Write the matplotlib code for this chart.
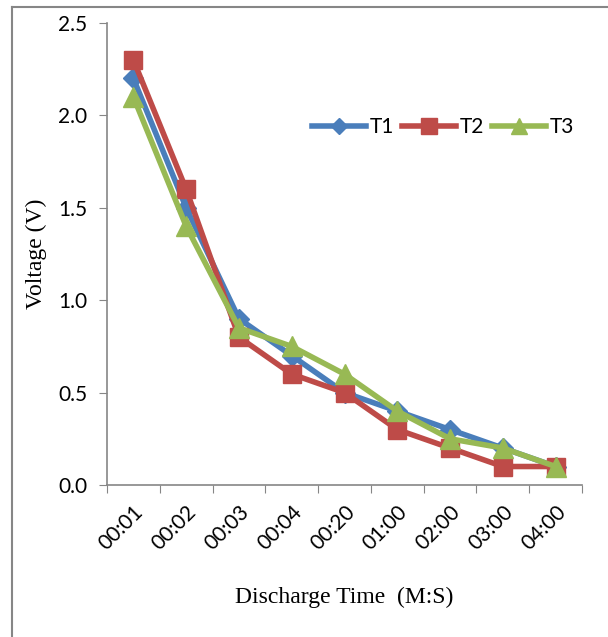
import matplotlib
matplotlib.use("Agg")
import matplotlib.pyplot as plt
from matplotlib.lines import Line2D

categories = ["00:01", "00:02", "00:03", "00:04", "00:20", "01:00", "02:00", "03:00", "04:00"]
t1 = [2.2, 1.5, 0.9, 0.7, 0.5, 0.4, 0.3, 0.2, 0.1]
t2 = [2.3, 1.6, 0.8, 0.6, 0.5, 0.3, 0.2, 0.1, 0.1]
t3 = [2.1, 1.4, 0.85, 0.75, 0.6, 0.4, 0.25, 0.2, 0.1]
y_ticks = [0.0, 0.5, 1.0, 1.5, 2.0, 2.5]

W, H = 608, 637
fig = plt.figure(figsize=(W / 100, H / 100), dpi=100)
ax = fig.add_axes([107 / W, 1 - 485 / H, (582 - 107) / W, (485 - 23) / H])

x = list(range(len(categories)))
ax.plot(x, t1, color="#4A7EBB", lw=4, marker="D", ms=10, label="T1", zorder=3)
ax.plot(x, t2, color="#BE4B48", lw=4, marker="s", ms=13, label="T2", zorder=3)
ax.plot(x, t3, color="#98B954", lw=4, marker="^", ms=14, label="T3", zorder=4)

ax.set_xlim(-0.5, len(categories) - 0.5)
ax.set_ylim(0, 2.5)
ax.set_yticks(y_ticks)
ax.set_yticklabels([f"{v:.1f}" for v in y_ticks], fontsize=15, family="Lato")
ax.set_xticks([i - 0.5 for i in range(len(categories) + 1)])
ax.set_xticklabels([])
ax.set_xticks(x, minor=True)
ax.set_xticklabels(categories, minor=True, rotation=45, ha="right", va="top",
                   rotation_mode="anchor", fontsize=15, family="Lato")
ax.tick_params(axis="x", which="minor", length=0, pad=12)
ax.tick_params(axis="x", which="major", direction="out", length=6, color="#868686")
ax.tick_params(axis="y", direction="out", length=6, color="#868686", pad=8)

for s in ["top", "right"]:
    ax.spines[s].set_visible(False)
for s in ["left", "bottom"]:
    ax.spines[s].set_color("#868686")
    ax.spines[s].set_linewidth(1.2)

ax.set_ylabel("Voltage (V)", family="Liberation Serif", fontsize=17, labelpad=8)
ax.set_xlabel("Discharge Time  (M:S)", family="Liberation Serif", fontsize=17, labelpad=24)

leg = ax.legend(loc="center", bbox_to_anchor=(443 / W, 1 - 127 / H), bbox_transform=fig.transFigure,
                ncol=3, frameon=False, handlelength=2.6, columnspacing=0.35,
                handletextpad=0.2, markerscale=0.85, prop={"family": "Lato", "size": 15})

fig.add_artist(Line2D([12 / W, 12 / W], [0, 1 - 7 / H], transform=fig.transFigure, color="#868686", lw=1.5))
fig.add_artist(Line2D([12 / W, 1], [1 - 7 / H, 1 - 7 / H], transform=fig.transFigure, color="#868686", lw=1.5))

fig.savefig("out.png", dpi=100)
